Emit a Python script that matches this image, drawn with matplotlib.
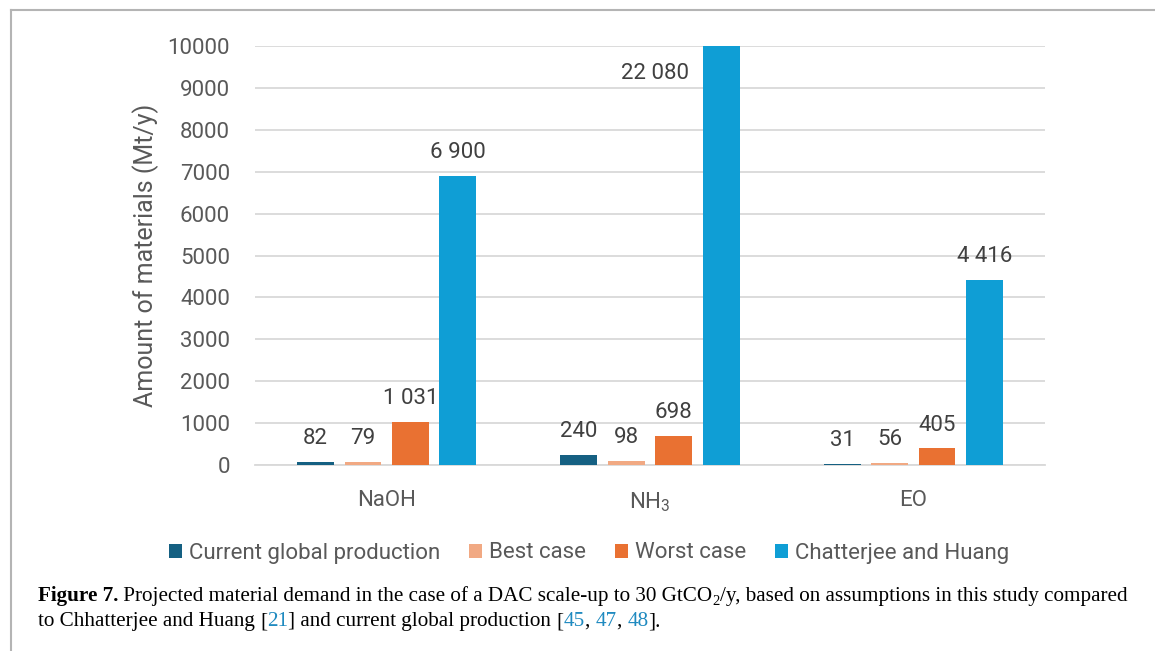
import matplotlib.pyplot as plt
import numpy as np
from matplotlib.lines import Line2D

plt.rcParams['font.family'] = ['Roboto', 'DejaVu Sans']
plt.rcParams['mathtext.fontset'] = 'custom'
plt.rcParams['mathtext.rm'] = 'Roboto'

materials = ['NaOH', 'NH$_\\mathregular{3}$', 'EO']
series = ['Current global production', 'Best case', 'Worst case', 'Chatterjee and Huang']
current = [82, 240, 31]
best = [79, 98, 56]
worst = [1031, 698, 405]
chatterjee = [6900, 22080, 4416]
labels = [['82', '240', '31'], ['79', '98', '56'],
          ['1 031', '698', '405'], ['6 900', '22 080', '4 416']]
colors = ['#156082', '#f1a983', '#e97132', '#0f9ed5']

gray = '#595959'
grid_c = '#d9d9d9'

fig = plt.figure(figsize=(11.55, 6.51), dpi=100)
ax = fig.add_axes([255/1155, 1-465/651, 790/1155, 419/651])

x = np.arange(len(materials))
offsets = [-0.27, -0.09, 0.09, 0.27]
ymax = 10000
for vals, lab, off, col, name in zip([current, best, worst, chatterjee], labels,
                                     offsets, colors, series):
    ax.bar(x + off, vals, width=0.14, color=col, label=name, zorder=3)
    for xi, v, t in zip(x + off, vals, lab):
        if v > ymax:
            # bar runs off the top, so the label sits beside it
            ax.annotate(t, (xi - 0.07, ymax), xytext=(-10, -12), textcoords='offset points',
                        ha='right', va='top', fontsize=16, color='#404040')
        else:
            ax.annotate(t, (xi, v), xytext=(0, 9), textcoords='offset points',
                        ha='center', va='bottom', fontsize=16, color='#404040')

ax.set_xlim(-0.5, 2.5)
ax.set_ylim(0, ymax)
ax.set_yticks(np.arange(0, 10001, 1000))
ax.yaxis.grid(True, color=grid_c, lw=1.3, zorder=0)
ax.set_xticks(x)
ax.set_xticklabels(materials)
ax.tick_params(axis='both', length=0, labelsize=16, colors=gray)
ax.tick_params(axis='y', pad=18)
ax.tick_params(axis='x', pad=18)
for s in ['top', 'right', 'left']:
    ax.spines[s].set_visible(False)
ax.spines['bottom'].set_color(grid_c)
ax.spines['bottom'].set_linewidth(1.3)
ax.set_ylabel('Amount of materials (Mt/y)', fontsize=18, color=gray, labelpad=6)

fig.legend(loc='center', bbox_to_anchor=(589/1155, 1-553/651), ncol=4, frameon=False,
           fontsize=16, labelcolor=gray, handlelength=0.6, handleheight=0.6,
           handletextpad=0.3, columnspacing=1.3)

# page frame
fig.add_artist(Line2D([11/1155, 11/1155], [0, 1-10/651], color='#b4b4b4', lw=1.5))
fig.add_artist(Line2D([11/1155, 1], [1-10/651, 1-10/651], color='#b4b4b4', lw=1.5))

# caption, built from pieces so the bold lead and blue refs line up
cap_font = ['Liberation Serif', 'DejaVu Serif']
link = '#1f8ac0'


def place(pieces, x0, y0, size=15.2):
    r = fig.canvas.get_renderer()
    xpix = x0
    for txt, kw in pieces:
        style = dict(fontsize=size, family=cap_font, color='black', va='baseline', ha='left')
        style.update(kw)
        dy = style.pop('dy', 0)
        t = fig.text(xpix / 1155, 1 - (y0 + dy) / 651, txt, **style)
        xpix += t.get_window_extent(renderer=r).width


place([('Figure 7.', dict(weight='bold')),
       (' Projected material demand in the case of a DAC scale-up to 30 GtCO', {}),
       ('2', dict(fontsize=10.5, dy=4)),
       ('/y, based on assumptions in this study compared', {})], 38, 601)
place([('to Chhatterjee and Huang ', {}),
       ('[', {}), ('21', dict(color=link)), ('] and current global production ', {}),
       ('[', {}), ('45', dict(color=link)), (', ', {}), ('47', dict(color=link)),
       (', ', {}), ('48', dict(color=link)), ('].', {})], 38, 626)

fig.savefig('out.png', dpi=100)
